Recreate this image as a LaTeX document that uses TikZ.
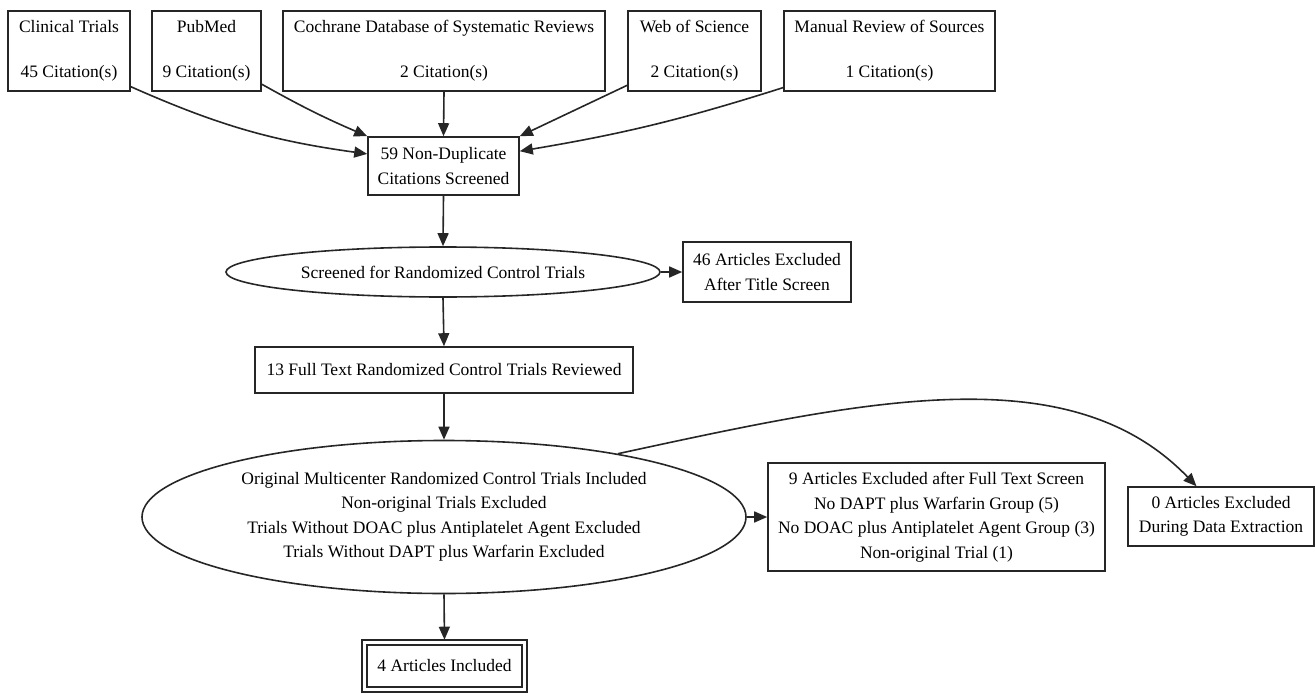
\documentclass[tikz,border=0pt]{standalone}
\usepackage{fontspec}
\setmainfont{Liberation Serif}
\usetikzlibrary{arrows.meta,shapes.geometric}

\begin{document}
\begin{tikzpicture}[x=1pt,y=-1pt,
  every node/.style={font=\fontsize{17.5}{24.5}\selectfont, text=black},
  box/.style={draw=black!85, line width=1.6pt, rectangle, inner sep=0pt, align=center},
  oval/.style={draw=black!85, line width=1.6pt, ellipse, inner sep=0pt, align=center},
  arr/.style={draw=black!85, line width=1.6pt, -{Triangle[length=13pt,width=11pt]}}]
\useasboundingbox (0,0) rectangle (1315,693);
% sources
\foreach \nm/\cx/\bw/\src/\cnt in {clin/69/122/Clinical Trials/45, pubm/206.5/109/PubMed/9,
  cochr/444/322/Cochrane Database of Systematic Reviews/2, wos/694.5/133/Web of Science/2,
  manu/889.5/211/Manual Review of Sources/1}
{\node[box, minimum width=\bw pt, minimum height=80pt] (\nm) at (\cx,51) {\src\\[20.5pt]\cnt\ Citation(s)};}
\node[box, minimum width=151pt, minimum height=58pt] (dedup) at (443.5,166) {59 Non-Duplicate\\Citations Screened};
\node[oval, minimum width=434pt, minimum height=50pt] (rct) at (443,272) {Screened for Randomized Control Trials};
\node[box, minimum width=168pt, minimum height=60pt] (title) at (767,272) {46 Articles Excluded\\After Title Screen};
\node[box, minimum width=378pt, minimum height=46pt] (full) at (444,370) {13 Full Text Randomized Control Trials Reviewed};
\node[oval, minimum width=604pt, minimum height=153pt] (multi) at (444,517) {Original Multicenter Randomized Control Trials Included\\Non-original Trials Excluded\\Trials Without DOAC plus Antiplatelet Agent Excluded\\Trials Without DAPT plus Warfarin Excluded};
\node[box, minimum width=337pt, minimum height=108pt] (ftx) at (936.5,517) {9 Articles Excluded after Full Text Screen\\No DAPT plus Warfarin Group (5)\\No DOAC plus Antiplatelet Agent Group (3)\\Non-original Trial (1)};
\node[box, minimum width=186pt, minimum height=59pt] (extr) at (1221,516.5) {0 Articles Excluded\\During Data Extraction};
\node[box, double=white, double distance=3.4pt, minimum width=160pt, minimum height=47pt] (incl) at (444.5,666) {4 Articles Included};

\draw[arr] (clin.-30) to[bend right=8] (dedup.171);
\draw[arr] (pubm.-31) to[bend right=3] (dedup.north west);
\draw[arr] (cochr.south) -- (dedup.north);
\draw[arr] (wos.207) -- (dedup.north east);
\draw[arr] (manu.199) to[bend left=4] (dedup.11);
\draw[arr] (dedup.south) -- (rct.north);
\draw[arr] (rct.east) -- (title.west);
\draw[arr] (rct.south) -- (full.north);
\draw[arr] (full.south) -- (multi.north);
\draw[arr] (multi.east) -- (ftx.west);
\draw[arr, shorten >=2pt] (multi.south) -- (incl.north);
\draw[arr] (multi.20) .. controls (866,400) and (1070,355) .. (extr.129);
\end{tikzpicture}
\end{document}
